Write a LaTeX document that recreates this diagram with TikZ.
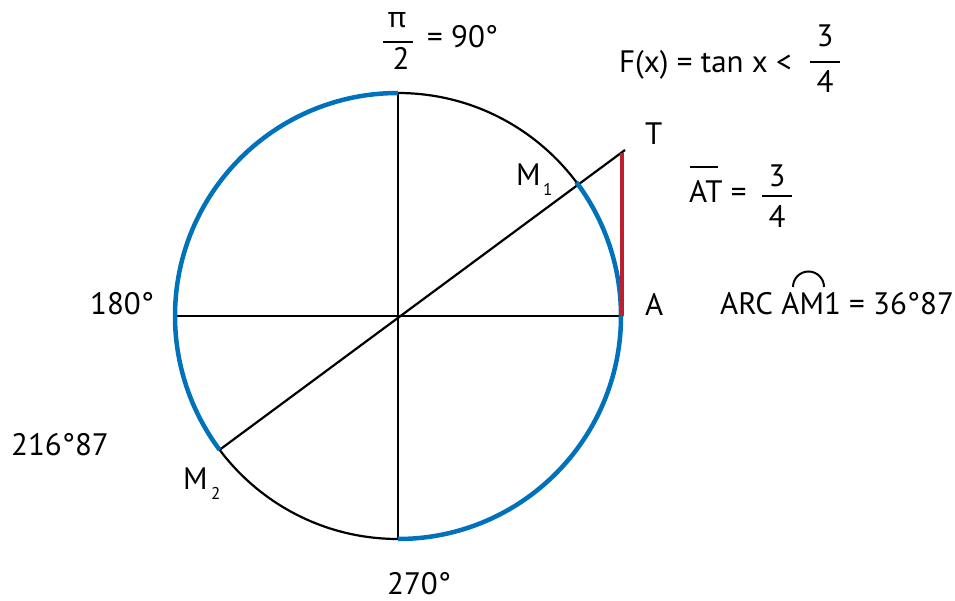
\documentclass[tikz,border=0pt]{standalone}
\usepackage{fontspec}
\setmainfont{PT Sans}
\newfontfamily\grk{Noto Sans}
\usetikzlibrary{calc}
\begin{document}
\begin{tikzpicture}[x=1pt,y=-1pt,
  lbl/.style={font=\fontsize{31}{34}\selectfont, inner sep=0pt, anchor=base west},
  lblc/.style={font=\fontsize{31}{34}\selectfont, inner sep=0pt, anchor=base},
  subl/.style={font=\fontsize{17}{20}\selectfont, inner sep=0pt, anchor=base west},
  axis/.style={line width=2.2pt, draw=black},
  bluearc/.style={line width=4.5pt, draw={rgb,255:red,0;green,114;blue,188}},
  redseg/.style={line width=4.5pt, draw={rgb,255:red,190;green,30;blue,45}},
  fracbar/.style={line width=2pt, draw=black}]
\useasboundingbox (0,0) rectangle (955,601);
\def\R{223}
\coordinate (O) at (398,316);
\coordinate (N) at (398,93);
\coordinate (S) at (398,539);
\coordinate (W) at (175,316);
\coordinate (A) at (621,316);
\coordinate (M1) at ($(O)+(-36.87:\R)$);
\coordinate (M2) at ($(O)+(143.13:\R)$);
\coordinate (T) at (625,150);
\coordinate (Ttop) at (622,153);
\coordinate (Abot) at (622,316);
% circle and axes
\draw[axis] (O) circle[radius=\R];
\draw[axis] (N) -- (S);
\draw[axis] (W) -- (A);
\draw[axis] (M2) -- (T);
% blue arcs
\draw[bluearc] (N) arc[start angle=-90, end angle=-216.87, radius=\R];
\draw[bluearc] (S) arc[start angle=90, end angle=-36.87, radius=\R];
% tangent segment
\draw[redseg] (Abot) -- (Ttop);
% labels
\node[lblc, font=\grk\fontsize{28}{32}\selectfont] (pi) at (397,28) {π};
\draw[fracbar] (383,42) -- (413,42);
\node[lblc] (two) at (401,70) {2};
\node[lbl] (l90) at (427,48) {= 90°};
\node[lbl] (fx) at (619,73) {F(x) = tan x <};
\node[lblc] (f3) at (825,47) {3};
\draw[fracbar] (810,62) -- (840,62);
\node[lblc] (f4) at (825,93) {4};
\node[lbl] (tl) at (645,145) {T};
\node[lbl] (al) at (645,316) {A};
\node[lbl] (m1) at (516,186) {M};
\node[subl] (m1s) at (543,196) {1};
\node[lbl] (m2) at (183,489) {M};
\node[subl] (m2s) at (211,499) {2};
\node[lbl] (l180) at (90,315) {180°};
\node[lbl] (l216) at (11,455) {216°87};
\node[lbl] (l270) at (387,594) {270°};
\node[lbl] (at) at (689,203) {AT =};
\draw[fracbar] (690,167) -- (718,167);
\node[lblc] (a3) at (777,187) {3};
\draw[fracbar] (762,196) -- (792,196);
\node[lblc] (a4) at (777,228) {4};
\node[lbl] (arc) at (720,315) {ARC AM1 = 36°87};
\draw[fracbar] (793,287) arc[start angle=180, end angle=360, radius=15.5];
\end{tikzpicture}
\end{document}
